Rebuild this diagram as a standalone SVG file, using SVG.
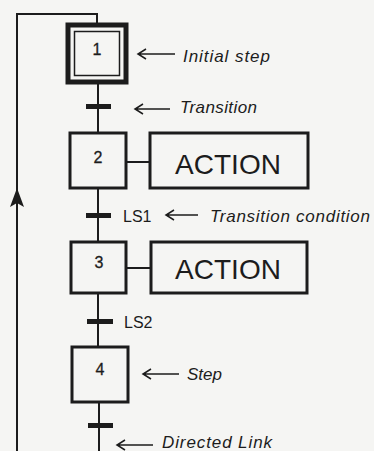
<svg xmlns="http://www.w3.org/2000/svg" width="374" height="451" viewBox="0 0 374 451">
<style>
.ln{stroke:#1c1c1c;fill:none;stroke-width:2}
.box{stroke:#1c1c1c;fill:none;stroke-width:3}
.bar{fill:#1c1c1c}
.num{font-family:"Liberation Sans",Arial,sans-serif;font-size:16px;fill:#1c1c1c;text-anchor:middle;stroke:#1c1c1c;stroke-width:0.3}
.act{font-family:"Liberation Sans",Arial,sans-serif;font-size:28px;fill:#1c1c1c;text-anchor:middle}
.cond{font-family:"Liberation Sans",Arial,sans-serif;font-size:16px;fill:#1c1c1c}
.lab{font-family:"Liberation Sans",Arial,sans-serif;font-size:17px;font-style:italic;fill:#1c1c1c}
.ar{stroke:#1c1c1c;fill:none;stroke-width:1.5}
</style>
<rect width="374" height="451" fill="#f5f5f3"/>
<g id="connectors">
  <path class="ln" d="M17 451 V14 H97 V25"/>
  <path d="M17 188 L24 207 L17 203 L10 207 Z" fill="#1c1c1c"/>
  <path class="ln" d="M98 82 V133"/>
  <path class="ln" d="M98 188 V242"/>
  <path class="ln" d="M98 293 V347"/>
  <path class="ln" d="M99 402 V451"/>
  <path class="ln" d="M126 162 H150"/>
  <path class="ln" d="M126 268 H151"/>
</g>
<g id="step1">
  <rect x="68" y="25" width="58" height="57" fill="none" stroke="#1c1c1c" stroke-width="5"/>
  <rect x="74.5" y="31.5" width="45" height="44" fill="none" stroke="#1c1c1c" stroke-width="1.5"/>
  <text class="num" x="97" y="55">1</text>
</g>
<g id="t1">
  <rect class="bar" x="86" y="104" width="25" height="5"/>
</g>
<g id="step2">
  <rect class="box" x="70" y="133" width="56" height="55"/>
  <text class="num" x="98" y="163">2</text>
</g>
<g id="action2">
  <rect class="box" x="150" y="133" width="158" height="55"/>
  <text class="act" x="228" y="174">ACTION</text>
</g>
<g id="t2">
  <rect class="bar" x="86" y="213" width="25" height="5"/>
  <text class="cond" x="123" y="222">LS1</text>
</g>
<g id="step3">
  <rect class="box" x="71" y="242" width="55" height="51"/>
  <text class="num" x="99" y="268">3</text>
</g>
<g id="action3">
  <rect class="box" x="151" y="242" width="156" height="51"/>
  <text class="act" x="228" y="279">ACTION</text>
</g>
<g id="t3">
  <rect class="bar" x="87" y="319" width="26" height="5"/>
  <text class="cond" x="124" y="328">LS2</text>
</g>
<g id="step4">
  <rect class="box" x="72" y="347" width="56" height="55"/>
  <text class="num" x="100" y="375">4</text>
</g>
<g id="t4">
  <rect class="bar" x="88" y="423" width="25" height="5"/>
</g>
<g id="annotations">
  <path class="ar" d="M175 54 H138 M146 49 L138 54 L146 59"/>
  <text class="lab" x="183" y="62" textLength="87">Initial  step</text>
  <path class="ar" d="M170 109 H135 M143 104 L135 109 L143 114"/>
  <text class="lab" x="180" y="113" textLength="77">Transition</text>
  <path class="ar" d="M198 215 H166 M174 210 L166 215 L174 220"/>
  <text class="lab" x="210" y="222" textLength="160">Transition condition</text>
  <path class="ar" d="M179 374 H143 M151 369 L143 374 L151 379"/>
  <text class="lab" x="187" y="380">Step</text>
  <path class="ar" d="M153 445 H117 M125 440 L117 445 L125 450"/>
  <text class="lab" x="162" y="448" textLength="110">Directed  Link</text>
</g>
</svg>
